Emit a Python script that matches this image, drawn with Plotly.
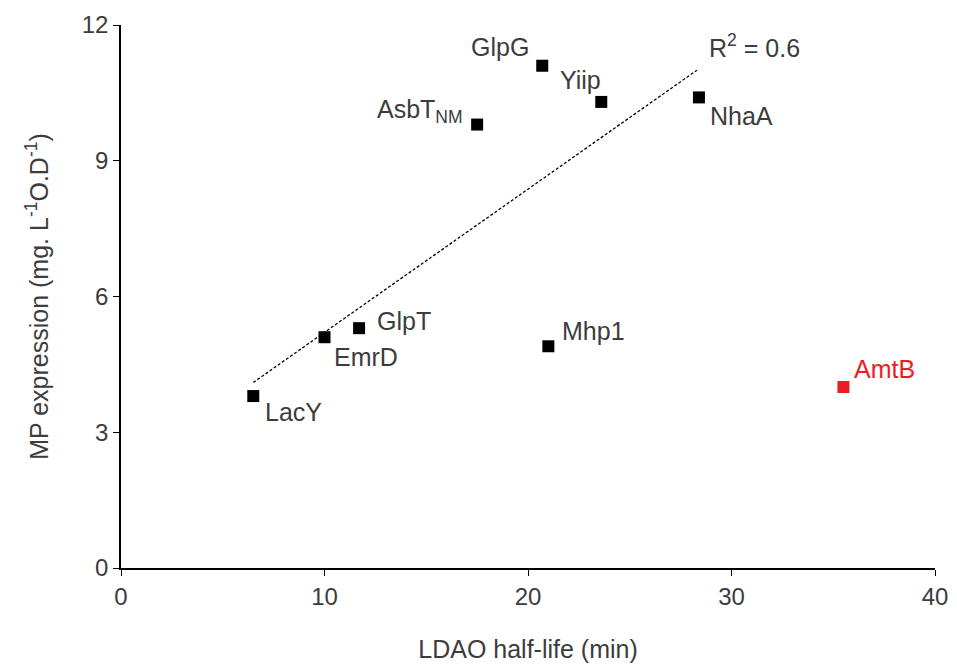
import plotly.graph_objects as go

names = ["LacY", "EmrD", "GlpT", "AsbT<sub>NM</sub>", "GlpG", "Yiip", "NhaA", "Mhp1", "AmtB"]
half_life = [6.5, 10.0, 11.7, 17.5, 20.7, 23.6, 28.4, 21.0, 35.5]
expression = [3.8, 5.1, 5.3, 9.8, 11.1, 10.3, 10.4, 4.9, 4.0]
colors = ["#000000"] * 8 + ["#ed1c24"]

trend_x = [6.5, 28.3]
trend_y = [4.1, 11.0]

# label offsets (px) and anchors
label_style = {
    "LacY": (10, -16, "left"),
    "EmrD": (7, -20, "left"),
    "GlpT": (16, 7, "left"),
    "AsbT<sub>NM</sub>": (-12, 14, "right"),
    "GlpG": (-11, 19, "right"),
    "Yiip": (-21, 22, "center"),
    "NhaA": (9, -19, "left"),
    "Mhp1": (12, 15, "left"),
    "AmtB": (9, 18, "left"),
}

font_family = "Liberation Sans, Arial, sans-serif"
text_color = "#3c3c3c"

fig = go.Figure()
fig.add_trace(go.Scatter(
    x=trend_x, y=trend_y, mode="lines",
    line=dict(color="black", width=1.3, dash="3px,2px"),
    hoverinfo="skip", showlegend=False,
))
fig.add_trace(go.Scatter(
    x=half_life, y=expression, mode="markers",
    marker=dict(symbol="square", size=12, color=colors),
    showlegend=False, text=names,
))

for n, x, y, c in zip(names, half_life, expression, colors):
    dx, dy, anchor = label_style[n]
    fig.add_annotation(
        x=x, y=y, text=n, showarrow=False, xshift=dx, yshift=dy,
        xanchor=anchor, yanchor="middle",
        font=dict(size=25, color=(c if c != "#000000" else text_color), family=font_family),
    )

fig.add_annotation(
    x=trend_x[1], y=trend_y[1], text="R<sup>2</sup> = 0.6", showarrow=False,
    xshift=10, yshift=24, xanchor="left", yanchor="middle",
    font=dict(size=25, color=text_color, family=font_family),
)

fig.update_layout(
    width=957, height=666,
    margin=dict(l=121, r=22, t=25, b=98),
    plot_bgcolor="white", paper_bgcolor="white",
    font=dict(family=font_family, color=text_color),
    xaxis=dict(
        range=[0, 40], tickvals=[0, 10, 20, 30, 40], automargin=False,
        showgrid=False, zeroline=False, showline=True, linecolor="black", linewidth=1.5,
        ticks="outside", ticklen=6, tickcolor="black", tickwidth=1,
        tickfont=dict(size=24, color=text_color),
        title=dict(text="LDAO half-life (min)", font=dict(size=25, color=text_color), standoff=32),
    ),
    yaxis=dict(
        range=[0, 12], tickvals=[0, 3, 6, 9, 12], automargin=False,
        showgrid=False, zeroline=False, showline=True, linecolor="black", linewidth=1.5,
        ticks="outside", ticklen=6, tickcolor="black", tickwidth=1,
        tickfont=dict(size=24, color=text_color),
        title=dict(text="MP expression (mg. L<sup>-1</sup>O.D<sup>-1</sup>)", font=dict(size=25, color=text_color), standoff=26),
    ),
)

fig.write_html("out.html")
